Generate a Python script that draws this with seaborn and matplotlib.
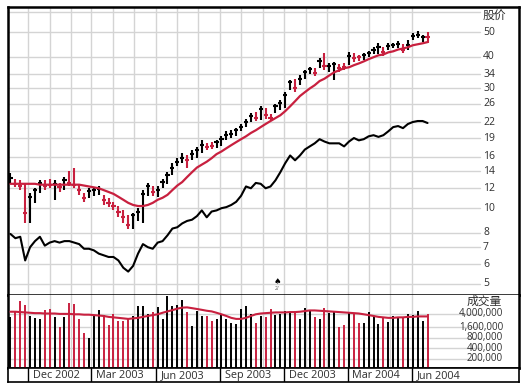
import numpy as np
import pandas as pd
import matplotlib
matplotlib.use("Agg")
import matplotlib.pyplot as plt
import matplotlib.dates as mdates
import seaborn as sns

# weekly bars, Nov 2002 - Jun 2004
week_start = "2002-11-06"
n_weeks = 86

high = [13.8, 13.1, 12.9, 12.5, 11.5, 12.0, 12.9, 12.9, 13.1, 12.9,
        12.6, 13.3, 14.1, 14.4, 12.5, 11.5, 12.0, 12.0, 12.2, 11.3,
        11.0, 10.6, 10.2, 9.8, 9.4, 9.6, 10.0, 11.8, 12.6, 12.2,
        12.2, 13.1, 13.9, 15.1, 15.8, 16.5, 16.2, 17.0, 17.5, 18.6,
        18.1, 18.3, 18.6, 19.3, 20.2, 20.4, 20.8, 21.6, 22.6, 23.8,
        24.0, 25.4, 25.1, 23.6, 25.9, 26.8, 28.9, 32.2, 32.7, 33.7,
        35.3, 36.3, 36.0, 39.4, 41.3, 37.6, 38.0, 37.3, 37.6, 41.6,
        41.3, 40.5, 41.3, 42.0, 43.6, 45.2, 43.6, 45.2, 45.2, 46.1,
        44.8, 46.5, 49.5, 50.5, 48.7, 50.0]
low = [12.5, 12.1, 11.8, 8.7, 8.7, 10.5, 11.5, 11.8, 12.0, 10.8,
       11.6, 11.8, 12.2, 12.0, 11.3, 10.6, 11.0, 11.2, 11.3, 10.3,
       10.1, 9.8, 9.2, 8.7, 8.3, 8.3, 8.9, 8.7, 11.2, 11.2,
       11.1, 12.0, 12.5, 13.5, 14.7, 15.1, 14.5, 15.5, 15.9, 16.5,
       17.0, 17.2, 17.3, 17.6, 18.6, 19.0, 19.3, 20.2, 21.0, 22.0,
       22.2, 22.4, 22.6, 22.2, 23.8, 24.5, 25.1, 29.4, 28.9, 30.8,
       32.7, 34.0, 33.4, 36.0, 35.3, 34.7, 32.2, 34.7, 35.3, 37.0,
       38.0, 38.3, 38.7, 39.8, 40.8, 40.8, 40.1, 42.4, 43.2, 43.2,
       41.3, 42.4, 46.5, 47.4, 45.7, 45.2]
close = [13.2, 12.5, 12.2, 9.6, 11.1, 11.8, 12.6, 12.2, 12.4, 12.5,
         12.1, 13.0, 12.6, 12.4, 11.8, 11.0, 11.7, 11.8, 11.9, 10.8,
         10.5, 10.2, 9.7, 9.2, 8.6, 9.4, 9.7, 11.4, 12.2, 11.6,
         11.8, 12.7, 13.5, 14.4, 15.2, 15.8, 15.5, 16.4, 17.0, 17.8,
         17.5, 17.6, 18.3, 18.8, 19.5, 19.7, 20.4, 21.0, 22.0, 23.2,
         22.8, 24.7, 23.4, 22.8, 25.4, 26.1, 28.1, 31.7, 29.9, 32.7,
         34.7, 35.6, 34.3, 38.3, 36.6, 36.6, 37.3, 36.0, 36.3, 40.1,
         39.4, 39.8, 40.5, 41.3, 42.7, 43.6, 41.6, 44.0, 44.4, 44.8,
         42.7, 44.4, 48.2, 48.7, 47.8, 47.8]
# U = up week (black), D = down week (red)
week_dir = ("UDDDUUUDDU" "DUDDDDUUUD" "DDDDDUUUUD" "UUUUUUDUUU" "DDUUUUUUUU"
            "DUDDUUUUDU" "UUDUDUUDDU" "DDUUUUDUUU" "DUUUUD")

moving_avg = [12.5, 12.5, 12.5, 12.5, 12.5, 12.5, 12.4, 12.4, 12.4, 12.4,
              12.4, 12.4, 12.4, 12.4, 12.4, 12.3, 12.2, 12.1, 12.0, 11.8,
              11.6, 11.4, 11.1, 10.8, 10.5, 10.3, 10.2, 10.2, 10.3, 10.5,
              10.8, 11.0, 11.3, 11.8, 12.3, 12.7, 13.3, 13.9, 14.5, 14.9,
              15.3, 15.8, 16.4, 16.8, 17.3, 17.8, 18.3, 18.8, 19.3, 19.9,
              20.4, 21.0, 21.6, 22.2, 22.8, 23.4, 24.3, 25.4, 26.6, 27.9,
              28.9, 29.9, 30.8, 32.0, 32.7, 33.7, 34.7, 35.3, 36.0, 36.3,
              37.0, 37.6, 38.3, 39.1, 39.8, 40.5, 40.8, 41.6, 42.0, 42.7,
              43.1, 43.6, 44.4, 44.8, 45.2, 45.7]
rel_strength = [7.9, 7.6, 7.7, 6.2, 7.0, 7.4, 7.7, 7.1, 7.3, 7.4,
                7.3, 7.4, 7.4, 7.3, 7.2, 6.9, 6.9, 6.8, 6.6, 6.5,
                6.4, 6.4, 6.2, 5.8, 5.6, 5.9, 6.6, 7.2, 7.0, 6.9,
                7.3, 7.4, 7.8, 8.3, 8.4, 8.7, 8.9, 9.0, 9.3, 9.8,
                9.2, 9.7, 9.8, 10.0, 10.1, 10.3, 10.6, 11.2, 12.2, 12.0,
                12.6, 12.5, 12.0, 12.2, 12.9, 13.9, 15.1, 16.2, 15.5, 16.2,
                17.1, 17.6, 18.1, 18.8, 18.4, 18.1, 18.1, 18.1, 17.6, 18.4,
                19.0, 18.6, 18.8, 19.3, 19.5, 19.2, 19.5, 20.2, 21.0, 21.2,
                20.8, 21.6, 22.0, 22.2, 22.2, 21.8]

# volume in millions of shares
volume = [3.1, 4.4, 9.0, 6.9, 3.4, 3.0, 2.8, 4.9, 5.5, 3.1,
          1.6, 3.1, 8.2, 7.7, 2.8, 1.1, 0.8, 3.5, 5.2, 3.7,
          1.9, 3.9, 2.5, 2.5, 3.0, 3.3, 6.6, 6.6, 3.9, 4.4,
          6.1, 2.8, 13.0, 6.6, 7.2, 9.7, 4.4, 1.7, 4.6, 3.5,
          3.5, 2.5, 2.7, 3.7, 2.8, 2.1, 2.0, 5.5, 6.6, 3.9,
          2.2, 3.5, 3.1, 5.5, 3.7, 3.9, 4.6, 4.4, 4.6, 2.8,
          5.7, 5.2, 3.1, 2.8, 5.7, 4.2, 4.4, 1.6, 1.9, 4.4,
          3.9, 2.2, 2.2, 4.4, 3.5, 2.0, 3.1, 2.3, 3.5, 3.1,
          3.1, 3.9, 3.7, 4.6, 2.5, 3.9]
volume_avg = [4.5, 4.5, 4.4, 4.3, 4.2, 4.1, 4.1, 4.0, 4.0, 4.0,
              3.9, 3.9, 3.9, 3.8, 3.8, 3.7, 3.7, 3.6, 3.5, 3.4,
              3.2, 3.1, 3.0, 2.9, 2.8, 2.9, 3.0, 3.2, 3.4, 3.6,
              3.8, 4.2, 4.6, 5.0, 5.5, 5.9, 6.0, 5.7, 5.4, 5.1,
              4.8, 4.6, 4.2, 3.8, 3.4, 3.0, 2.8, 2.8, 3.0, 3.4,
              3.8, 4.0, 4.1, 4.2, 4.3, 4.3, 4.3, 4.4, 4.4, 4.5,
              4.7, 4.9, 4.9, 4.8, 4.7, 4.6, 4.5, 4.4, 4.3, 4.2,
              4.1, 4.0, 3.8, 3.6, 3.4, 3.2, 3.1, 3.0, 3.0, 3.1,
              3.1, 3.2, 3.2, 3.3, 3.3, 3.3]

price_ticks = [50, 40, 34, 30, 26, 22, 19, 16, 14, 12, 10, 8, 7, 6, 5]
volume_ticks = [4.0, 1.6, 0.8, 0.4, 0.2]
volume_labels = ["4,000,000", "1,600,000", "800,000", "400,000", "200,000"]
quarter_starts = ["2002-12-01", "2003-03-01", "2003-06-01", "2003-09-01",
                  "2003-12-01", "2004-03-01", "2004-06-01"]
quarter_labels = ["Dec 2002", "Mar 2003", "Jun 2003", "Sep 2003",
                  "Dec 2003", "Mar 2004", "Jun 2004"]

RED = "#c8203f"
GRID = "#d4d4d4"
TXT = "#2e2e2e"

sns.set_theme(style="white")
plt.rcParams["font.family"] = ["Open Sans", "Noto Sans CJK SC", "DejaVu Sans"]

dates = pd.date_range(week_start, periods=n_weeks, freq="7D")
xd = mdates.date2num(dates)
colors = ["black" if d == "U" else RED for d in week_dir]
half = 3.0  # days, half width of close tick

fig = plt.figure(figsize=(5.28, 3.87), dpi=100)
L, W = 8 / 528, 511 / 528
ax_p = fig.add_axes([L, 1 - 295 / 387, W, 288 / 387])
ax_v = fig.add_axes([L, 1 - 368 / 387, W, 73 / 387])
ax_d = fig.add_axes([L, 1 - 382 / 387, W, 14 / 387])

x0 = mdates.date2num(pd.Timestamp("2002-11-02 12:00"))
x1 = mdates.date2num(pd.Timestamp("2004-10-31 12:00"))
months = mdates.date2num(pd.date_range("2002-12-01", "2004-06-01", freq="MS"))
grid_right = (480 - 8) / 511

for ax in (ax_p, ax_v, ax_d):
    ax.set_xlim(x0, x1)
    ax.set_facecolor("white")
    ax.grid(False)
    ax.tick_params(which="both", left=False, right=False, bottom=False, top=False,
                   labelleft=False, labelbottom=False)

# ---- price panel
ax_p.set_yscale("log")
ax_p.set_ylim(4.52, 63)
for m in months:
    ax_p.axvline(m, color=GRID, lw=1.0, zorder=0)
for v in price_ticks + [60]:
    ax_p.axhline(v, xmin=0, xmax=grid_right, color=GRID, lw=1.0, zorder=0)

ax_p.vlines(xd, low, high, colors=colors, lw=1.5, zorder=3)
ax_p.hlines(close, xd - half, xd + half, colors=colors, lw=1.5, zorder=3)
sns.lineplot(x=xd, y=moving_avg, ax=ax_p, color=RED, lw=1.6, zorder=4)
sns.lineplot(x=xd, y=rel_strength, ax=ax_p, color="black", lw=1.5, zorder=4)

ytr = ax_p.get_yaxis_transform()
for v in price_ticks:
    ax_p.text((483 - 8) / 511, v, str(v), transform=ytr, ha="left", va="center",
              fontsize=7.5, color=TXT)
ax_p.text((494 - 8) / 511, (295 - 16) / 288, "股价", transform=ax_p.transAxes,
          ha="center", va="center", fontsize=8.5, color=TXT,
          family=["Noto Sans CJK SC", "DejaVu Sans"])

# earnings marker
mk = mdates.date2num(pd.Timestamp("2003-11-22"))
ax_p.text(mk, 5.1, "\u2660", ha="center", va="center", fontsize=6, color="black",
          family=["DejaVu Sans"])
ax_p.text(mk - 1, 4.78, "2/", ha="center", va="center", fontsize=3.5, color="#555555")

# ---- volume panel
ax_v.set_yscale("log")
ax_v.set_ylim(0.109, 13.6)
for m in months:
    ax_v.axvline(m, color=GRID, lw=1.0, zorder=0)
for v in volume_ticks:
    ax_v.axhline(v, xmin=0, xmax=grid_right, color=GRID, lw=1.0, zorder=0)
ax_v.vlines(xd, 0.05, volume, colors=colors, lw=1.4, zorder=3)
sns.lineplot(x=xd, y=volume_avg, ax=ax_v, color=RED, lw=1.5, zorder=4)
ytv = ax_v.get_yaxis_transform()
for v, lbl in zip(volume_ticks, volume_labels):
    ax_v.text((503 - 8) / 511, v, lbl, transform=ytv, ha="right", va="center",
              fontsize=7, color=TXT)
ax_v.text((484 - 8) / 511, (368 - 301) / 73, "成交量", transform=ax_v.transAxes,
          ha="center", va="center", fontsize=8.5, color=TXT,
          family=["Noto Sans CJK SC", "DejaVu Sans"])

# ---- date strip
ax_d.set_ylim(0, 1)
for q, lbl in zip(quarter_starts, quarter_labels):
    qx = mdates.date2num(pd.Timestamp(q))
    ax_d.axvline(qx, color="black", lw=1.0)
    ax_d.annotate(lbl, xy=(qx, 0.5), xycoords=("data", "axes fraction"),
                  xytext=(3.5, -0.5), textcoords="offset points",
                  ha="left", va="center", fontsize=7.8, color=TXT)

for ax, lw in ((ax_p, 1.8), (ax_v, 1.8), (ax_d, 1.2)):
    for s in ax.spines.values():
        s.set_visible(True)
        s.set_color("black")
        s.set_linewidth(lw)
ax_v.spines["top"].set_visible(False)

fig.savefig("out.png", dpi=100)
